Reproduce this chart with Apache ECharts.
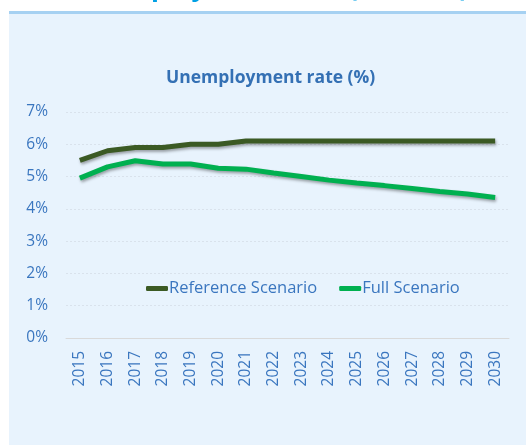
<!DOCTYPE html>
<html>
<head>
<meta charset="utf-8">
<script src="https://cdn.jsdelivr.net/npm/echarts@6/dist/echarts.min.js"></script>
<style>
  html, body { margin: 0; padding: 0; background: #fff; }
  #chart { width: 526px; height: 445px; }
</style>
</head>
<body>
<div id="chart"></div>
<script>
const years = ['2015', '2016', '2017', '2018', '2019', '2020', '2021', '2022',
  '2023', '2024', '2025', '2026', '2027', '2028', '2029', '2030']
const referenceScenario = [5.5, 5.8, 5.9, 5.9, 6.0, 6.0, 6.1, 6.1, 6.1, 6.1, 6.1, 6.1, 6.1, 6.1, 6.1, 6.1]
const fullScenario = [4.95, 5.3, 5.49, 5.39, 5.39, 5.26, 5.23, 5.11, 5.0, 4.89, 4.8, 4.72, 4.63, 4.54, 4.46, 4.35]

const font = 'Open Sans'
const labelBlue = '#3a76bf'
const lineShadow = {
  shadowColor: 'rgba(0,0,0,0.35)',
  shadowBlur: 3,
  shadowOffsetX: 1,
  shadowOffsetY: 2
}

const chart = echarts.init(document.getElementById('chart'))
const option = {
  animation: false,
  textStyle: { fontFamily: font },
  graphic: [
    // panel behind the chart
    { type: 'rect', z: -10, shape: { x: 9, y: 12, width: 517, height: 433 }, style: { fill: '#e8f3fd' } },
    { type: 'rect', z: -9, shape: { x: 9, y: 11, width: 517, height: 3 }, style: { fill: '#a6d1f2' } },
    // slide title, cut off at the top
    {
      type: 'text', x: 271, y: 2, z: 5,
      style: {
        text: 'Unemployment Rate (2015–30)', fill: '#00a0e4',
        font: 'bold 26px "Open Sans"', textAlign: 'center', textVerticalAlign: 'bottom'
      }
    }
  ],
  title: {
    text: 'Unemployment rate (%)',
    left: 166,
    top: 69,
    padding: 0,
    textStyle: { color: '#3470b4', fontSize: 17.5, fontWeight: 'bold', fontFamily: font }
  },
  legend: {
    left: 146,
    top: 280,
    padding: 0,
    itemWidth: 22,
    itemHeight: 5,
    itemGap: 22,
    icon: 'roundRect',
    textStyle: { color: labelBlue, fontSize: 16.5, fontFamily: font, padding: [0, 0, 0, -4] },
    data: ['Reference Scenario', 'Full Scenario']
  },
  grid: { left: 66, right: 17, top: 112, bottom: 107 },
  xAxis: {
    type: 'category',
    data: years,
    axisLine: { lineStyle: { color: '#d9d9d9', width: 1 } },
    axisTick: { show: false },
    axisLabel: { rotate: 90, color: labelBlue, fontSize: 15.5, margin: 13 }
  },
  yAxis: {
    type: 'value',
    min: 0,
    max: 7,
    interval: 1,
    axisLine: { show: false },
    axisTick: { show: false },
    axisLabel: { formatter: '{value}%', color: labelBlue, fontSize: 15.5, margin: 18 },
    splitLine: { lineStyle: { color: '#d9e2ec', type: [2, 2] } }
  },
  series: [
    {
      name: 'Reference Scenario',
      type: 'line',
      data: referenceScenario,
      symbol: 'none',
      color: '#3b5a24',
      lineStyle: Object.assign({ width: 5, color: '#3b5a24' }, lineShadow)
    },
    {
      name: 'Full Scenario',
      type: 'line',
      data: fullScenario,
      symbol: 'none',
      color: '#00b050',
      lineStyle: Object.assign({ width: 5, color: '#00b050' }, lineShadow)
    }
  ]
}
chart.setOption(option)
</script>
</body>
</html>
